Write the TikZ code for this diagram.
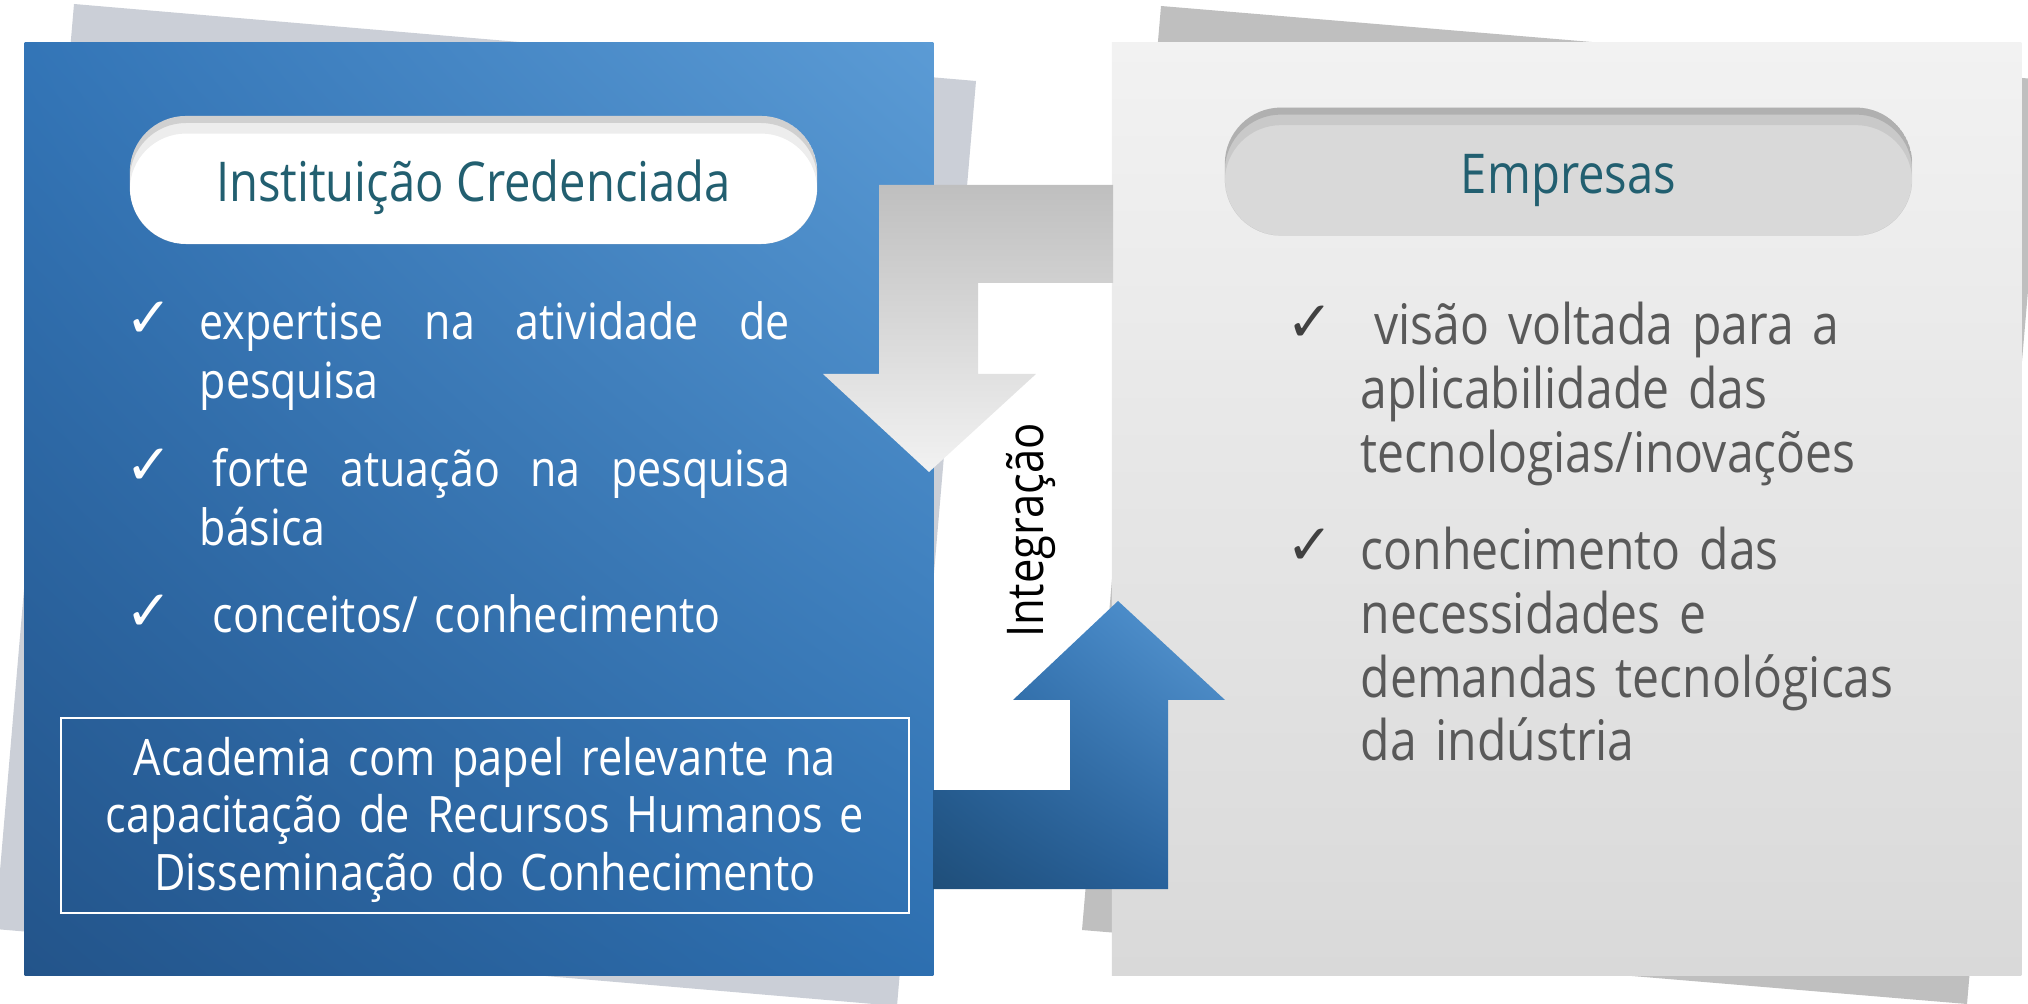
\documentclass[tikz,border=0pt]{standalone}
\usepackage{fontspec}
\setmainfont{Open Sans}[FakeStretch=0.86]
\newfontfamily\checkfont{DejaVu Sans}
\usepackage{xcolor}
\usepackage{tikz}
\usetikzlibrary{positioning,calc,shadings}

\definecolor{shadeblue}{HTML}{CBCFD7}
\definecolor{shadegray}{HTML}{BFBFBF}
\definecolor{bluelight}{HTML}{5B9BD5}
\definecolor{bluemid}{HTML}{3375B7}
\definecolor{bluemidb}{HTML}{2D6FB0}
\definecolor{bluedark}{HTML}{23548A}
\definecolor{arrowmid}{HTML}{2F72B5}
\definecolor{arrowmidb}{HTML}{2A66A4}
\definecolor{arrowdark}{HTML}{1F4E79}
\definecolor{graytop}{HTML}{F2F2F2}
\definecolor{graybot}{HTML}{D9D9D9}
\definecolor{titleteal}{HTML}{225F70}
\definecolor{textgray}{HTML}{595959}
\definecolor{checkgray}{HTML}{404040}

\begin{document}
\begin{tikzpicture}[
    x=0.01cm, y=-0.01cm,
    panel/.style={rectangle, minimum width=9.08cm, minimum height=9.32cm, inner sep=0pt},
    pill/.style={rectangle, rounded corners=16pt, minimum width=6.87cm, minimum height=1.28cm, inner sep=0pt,
        font=\fontsize{15.6}{18}\selectfont, text=titleteal, text height=15pt, text depth=2.5pt,
        path picture={
            \fill[black, opacity=0.07, even odd rule, rounded corners=16pt]
                (path picture bounding box.north west) rectangle (path picture bounding box.south east)
                ([yshift=-5pt]path picture bounding box.north west) rectangle ([yshift=-5pt]path picture bounding box.south east);
            \fill[black, opacity=0.12, even odd rule, rounded corners=16pt]
                (path picture bounding box.north west) rectangle (path picture bounding box.south east)
                ([yshift=-2pt]path picture bounding box.north west) rectangle ([yshift=-2pt]path picture bounding box.south east);
        }},
    lbul/.style={text width=5.90cm, align=left, inner sep=0pt, anchor=base west, text=white, font=\fontsize{14.2}{16.5}\selectfont},
    rbul/.style={text width=6.2cm, align=left, inner sep=0pt, anchor=base west, text=textgray, font=\fontsize{15.9}{18.1}\selectfont},
    lcheck/.style={inner sep=0pt, anchor=base west, text=white, font=\checkfont\fontsize{16}{16}\selectfont},
    rcheck/.style={inner sep=0pt, anchor=base west, text=checkgray, font=\checkfont\fontsize{16}{16}\selectfont}
]
\useasboundingbox (0,0) rectangle (2028,1004);
\fill[shadeblue] (74,4) -- (976,81) -- (897,1006) -- (-5,929) -- cycle;
\fill[shadegray] (1161,6) -- (2046,80) -- (1967,1004) -- (1082,930) -- cycle;
\node[panel, shade, upper right=bluelight, upper left=bluemid, lower right=bluemidb, lower left=bluedark] (inst) at (479,509) {};
\node[panel, minimum width=9.09cm, shade, top color=graytop, bottom color=graybot] (emp) at (1566.5,509) {};
\shade[top color=shadegray, bottom color=graytop]
    (1113,185) -- (879,185) -- (879,374) -- (823,374) -- (929,472) -- (1036,374) -- (978,374) -- (978,283) -- (1113,283) -- cycle;
\shade[upper right=bluelight, upper left=arrowmid, lower right=arrowmidb, lower left=arrowdark]
    (933,790) -- (1070,790) -- (1070,700) -- (1013,700) -- (1118,601) -- (1225,700) -- (1168,700) -- (1168,889) -- (933,889) -- cycle;
\node[pill, fill=white] (tinst) at (473.5,180) {Instituição Credenciada};
\node[pill, fill=graybot] (temp) at (1568.5,171.6) {Empresas};
\node[lcheck] (ck1) at (125,338) {✓};
\node[lbul] (b1) at (199,340) {expertise\hfill na\hfill atividade\hfill de\\pesquisa};
\node[lcheck] (ck2) at (125,485) {✓};
\node[lbul] (b2) at (199,487) {\hspace*{0.13cm}forte\hfill atuação\hfill na\hfill pesquisa\\básica};
\node[lcheck] (ck3) at (125,631) {✓};
\node[lbul] (b3) at (199,633) {\hspace*{0.13cm}conceitos/ conhecimento};
\node[draw=white, line width=0.6pt, minimum width=8.48cm, minimum height=1.95cm, inner sep=0pt] (acad) at (485,815.5) {};
\node[text width=8.4cm, align=center, inner sep=0pt, anchor=base, text=white, font=\fontsize{14.3}{16.36}\selectfont] (acadtxt) at (485,775)
    {Academia com papel relevante na\\capacitação de Recursos Humanos e\\Disseminação do Conhecimento};
\node[rotate=90, anchor=base, inner sep=0pt, font=\fontsize{14.4}{17}\selectfont] (integ) at (1043,530.5) {Integração};
\node[rcheck] (rck1) at (1286,342) {✓};
\node[rbul] (rb1) at (1360,345) {\hspace*{0.14cm}visão voltada para a\\aplicabilidade das\\tecnologias/inovações};
\node[rcheck] (rck2) at (1286,565) {✓};
\node[rbul] (rb2) at (1360,570) {conhecimento das\\necessidades e\\demandas tecnológicas\\da indústria};
\end{tikzpicture}
\end{document}
